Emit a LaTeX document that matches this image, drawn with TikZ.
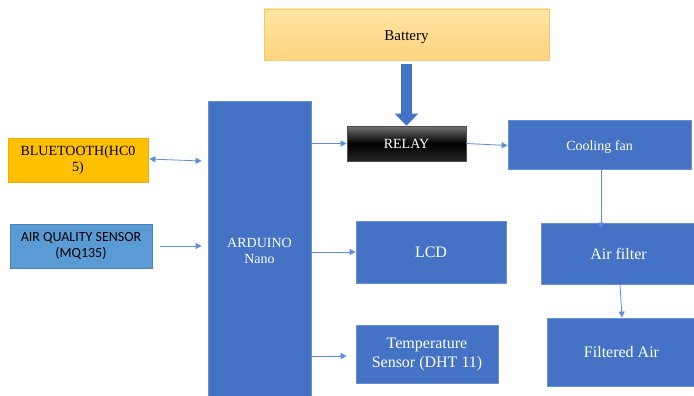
\documentclass[tikz,border=0pt]{standalone}
\usepackage{fontspec}
\setmainfont{Liberation Serif}
\newfontfamily\calfont{Carlito}
\usetikzlibrary{arrows.meta}
\definecolor{boxblue}{HTML}{4472C4}
\definecolor{boxedge}{HTML}{6A8FD2}
\definecolor{arrblue}{HTML}{5B8ED8}
\definecolor{btfill}{HTML}{FFC000}
\definecolor{btedge}{HTML}{E6AE10}
\definecolor{aqfill}{HTML}{5B9BD5}
\definecolor{aqedge}{HTML}{4A84BE}
\definecolor{battop}{HTML}{FFE6A3}
\definecolor{batbot}{HTML}{FFD27E}
\definecolor{batedge}{HTML}{F6C86A}
\tikzset{
  bluebox/.style={draw=boxedge, fill=boxblue, line width=0.8pt, text=white, align=center, inner sep=0pt, font=\fontsize{15}{17}\selectfont},
  thinarrow/.style={draw=arrblue, line width=0.8pt, -{Triangle[width=6pt,length=6pt]}},
  bigarrow/.style={draw=boxblue, line width=11pt, -{Triangle[width=23pt,length=12pt]}}
}
\begin{document}
\begin{tikzpicture}[x=1pt,y=-1pt]
\useasboundingbox[fill=white] (0,0) rectangle (694,396);
\begin{scope}
\clip (0,0) rectangle (694,396);
% nodes
\node[draw=batedge, top color=battop, bottom color=batbot, line width=0.8pt, minimum width=285pt, minimum height=51pt, inner sep=0pt, text height=16pt, text depth=3pt, font=\fontsize{15}{17}\selectfont] (bat) at (406.5,34.5) {Battery};
\node[draw=black!70, top color=black!55, bottom color=black!85, middle color=black, line width=0.8pt, minimum width=119pt, minimum height=35pt, inner sep=0pt, text=white, font=\fontsize{14}{16}\selectfont] (relay) at (406.5,143.5) {RELAY};
\node[bluebox, minimum width=183pt, minimum height=49pt, text height=15pt, text depth=3pt, font=\fontsize{14}{16}\selectfont] (fan) at (599.5,144.5) {Cooling fan};
\node[bluebox, minimum width=103pt, minimum height=299pt, font=\fontsize{14}{16}\selectfont] (ard) at (259.5,250.5) {};
\node[text=white, align=center, font=\fontsize{14}{16}\selectfont] (ardtxt) at (259.5,251) {ARDUINO\\Nano};
\node[draw=btedge, fill=btfill, line width=0.8pt, minimum width=140pt, minimum height=44pt, inner sep=0pt, align=center, font=\fontsize{14}{16}\selectfont] (bt) at (78,160) {BLUETOOTH(HC0\\5)};
\node[draw=aqedge, fill=aqfill, line width=0.8pt, minimum width=142pt, minimum height=44pt, inner sep=0pt, align=center, font=\calfont\fontsize{14}{16}\selectfont] (aq) at (81,246) {AIR QUALITY SENSOR\\(MQ135)};
\node[bluebox, minimum width=150pt, minimum height=62pt, font=\fontsize{16}{18}\selectfont] (lcd) at (431,252) {LCD};
\node[bluebox, minimum width=142pt, minimum height=58pt, font=\fontsize{16}{19}\selectfont] (temp) at (427,354) {Temperature\\Sensor (DHT 11)};
\node[bluebox, minimum width=155pt, minimum height=61pt, font=\fontsize{16}{18}\selectfont] (filter) at (618.5,253.5) {Air filter};
\node[bluebox, minimum width=149pt, minimum height=68pt, font=\fontsize{16}{18}\selectfont] (filtered) at (621.5,352) {Filtered Air};
% connectors
\draw[bigarrow] ([yshift=-4pt]bat.south) -- (relay.north);
\draw[thinarrow, {Triangle[width=6pt,length=6pt]}-{Triangle[width=6pt,length=6pt]}] ([shift={(1pt,1pt)}]bt.east) -- ([shift={(-6pt,0pt)}]ard.west |- 0,161);
\draw[thinarrow] ([xshift=8pt]aq.east) -- ([xshift=-6pt]ard.west |- aq.east);
\draw[thinarrow] (ard.east |- relay.west) -- (relay.west);
\draw[thinarrow] (ard.east |- lcd.west) -- (lcd.west);
\draw[thinarrow] (ard.east |- 0,356) -- ([xshift=-9pt]temp.west |- 0,356);
\draw[thinarrow] (relay.east) -- ([yshift=-1pt]fan.west);
\draw[thinarrow] ([xshift=1.5pt]fan.south) -- ([shift={(-17.5pt,-6pt)}]filter.north);
\draw[thinarrow] ([xshift=1.5pt]filter.south) -- ([xshift=0.5pt]filtered.north);
\end{scope}
\end{tikzpicture}
\end{document}
